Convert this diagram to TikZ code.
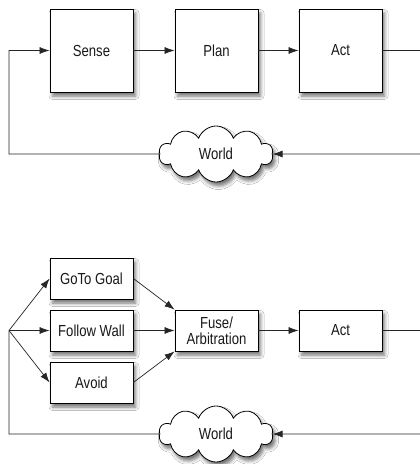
\documentclass[tikz,border=0pt]{standalone}
\usepackage{fontspec}
\setmainfont{Liberation Sans}[FakeStretch=0.82]
\usetikzlibrary{arrows.meta,shapes.symbols,shadows.blur}
\begin{document}
\begin{tikzpicture}[x=1pt,y=-1pt,
  shad/.style={blur shadow={shadow xshift=2.5pt, shadow yshift=-4pt, shadow blur radius=3.5pt, shadow opacity=55}},
  txt/.style={font=\fontsize{16}{16}\selectfont, text=black!90},
  bigbox/.style={draw=black, line width=0.8pt, fill=white, minimum width=83pt, minimum height=83pt, inner sep=0pt, shad, txt},
  smallbox/.style={draw=black, line width=0.8pt, fill=white, minimum width=83pt, minimum height=41pt, inner sep=0pt, shad, txt, align=center},
  world/.style={cloud, cloud puffs=10, cloud puff arc=140, aspect=2.1, draw=black, line width=0.8pt, fill=white, minimum width=114pt, minimum height=56pt, inner sep=0pt, shad, txt},
  conn/.style={draw=black!85, line width=0.7pt},
  arr/.style={conn, -{Latex[length=10pt,width=7pt]}}
]
\fill[white] (0,0) rectangle (420,464);
\useasboundingbox (0,0) rectangle (420,464);

% top diagram
\node[bigbox] (sense) at (91.5,50.5) {Sense};
\node[bigbox] (plan) at (216.5,50.5) {Plan};
\node[bigbox] (act) at (340.5,50.5) {Act};
\node[world] (world) at (216,154) {World};
\coordinate (rt) at (422,50.5);
\coordinate (rb) at (422,154);
\coordinate (lb) at (9,154);
\coordinate (lt) at (9,50.5);
\draw[arr] (sense) -- (plan);
\draw[arr] (plan) -- (act);
\draw[conn] (act) -- (rt) -- (rb);
\draw[arr] (rb) -- (world.east);
\draw[arr] (world.west) -- (lb) -- (lt) -- (sense.west);

% bottom diagram
\node[smallbox] (goto) at (91.5,278.5) {GoTo Goal};
\node[smallbox] (follow) at (91.5,330.5) {Follow Wall};
\node[smallbox] (avoid) at (91.5,382.5) {Avoid};
\node[smallbox] (fuse) at (216.5,330.5) {Fuse/\\Arbitration};
\node[smallbox] (act2) at (340.5,330.5) {Act};
\node[world] (world2) at (216,434) {World};
\coordinate (br) at (9,330.5);
\coordinate (bl) at (9,434);
\coordinate (rt2) at (422,330.5);
\coordinate (rb2) at (422,434);
\draw[arr] (br) -- (goto.west);
\draw[arr] (br) -- (follow.west);
\draw[arr] (br) -- (avoid.west);
\draw[arr] (goto.east) -- (fuse.north west);
\draw[arr] (follow) -- (fuse);
\draw[arr] (avoid.east) -- (fuse.south west);
\draw[arr] (fuse) -- (act2);
\draw[conn] (act2) -- (rt2) -- (rb2);
\draw[arr] (rb2) -- (world2.east);
\draw[conn] (world2.west) -- (bl) -- (br);
\end{tikzpicture}
\end{document}
